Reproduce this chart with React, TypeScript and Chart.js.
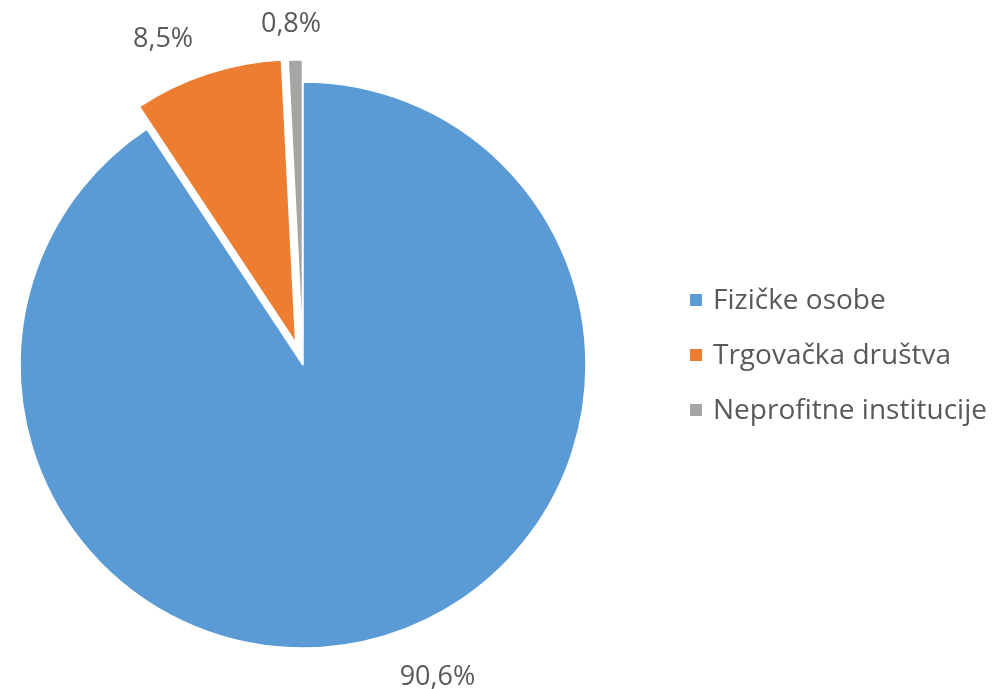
import React, { useEffect, useRef } from "react";
import { Chart, registerables } from "chart.js";

Chart.register(...registerables);

const categories = ["Fizičke osobe", "Trgovačka društva", "Neprofitne institucije"];
const values = [90.6, 8.5, 0.8];
const colors = ["#5B9BD5", "#ED7D31", "#A5A5A5"];
const explodePx = [0, 23.5, 22];

const TEXT_COLOR = "#595959";
const FONT = "'Open Sans', Lato, sans-serif";
const PIE_RADIUS = 283;

const fmt = (v: number) => v.toFixed(1).replace(".", ",") + "%";

const shiftOf = (arc: any, i: number) => {
  const mid = (arc.startAngle + arc.endAngle) / 2;
  const t = explodePx[i] || 0;
  return { dx: Math.cos(mid), dy: Math.sin(mid), tx: Math.cos(mid) * t, ty: Math.sin(mid) * t };
};

const explodePlugin = {
  id: "explode",
  beforeDatasetDraw(chart: any, args: any) {
    const ctx = chart.ctx;
    const meta = args.meta;
    meta.data.forEach((arc: any, i: number) => {
      const s = shiftOf(arc, i);
      ctx.save();
      ctx.translate(s.tx, s.ty);
      arc.draw(ctx, chart.chartArea);
      ctx.restore();
    });
    return false;
  },
};

const labelsPlugin = {
  id: "outLabels",
  afterDatasetsDraw(chart: any) {
    const ctx = chart.ctx;
    const meta = chart.getDatasetMeta(0);
    const ds = chart.data.datasets[0];
    ctx.save();
    ctx.font = `27px ${FONT}`;
    ctx.fillStyle = TEXT_COLOR;
    ctx.textAlign = "center";
    ctx.textBaseline = "middle";
    meta.data.forEach((arc: any, i: number) => {
      const s = shiftOf(arc, i);
      const r = arc.outerRadius + 26;
      const px = arc.x + s.tx + s.dx * r;
      const py = arc.y + s.ty + s.dy * r;
      const text = fmt(ds.data[i]);
      const w = ctx.measureText(text).width;
      const h = 22;
      const sx = Math.max(-1, Math.min(1, s.dx * 4));
      const fy = s.dy > 0 ? 0.77 : 0.45;
      ctx.fillText(text, px + sx * w * 0.6, py + s.dy * h * fy);
    });
    ctx.restore();
  },
  afterDraw(chart: any) {
    const ctx = chart.ctx;
    const ds = chart.data.datasets[0];
    const labels = chart.data.labels as string[];
    const x0 = 690;
    const rowH = 55;
    const centerY = 355;
    const startY = centerY - ((labels.length - 1) * rowH) / 2;
    ctx.save();
    ctx.font = `28px ${FONT}`;
    ctx.textBaseline = "middle";
    ctx.textAlign = "left";
    labels.forEach((lab, i) => {
      const y = startY + i * rowH;
      ctx.fillStyle = ds.backgroundColor[i];
      ctx.fillRect(x0, y - 6, 12, 12);
      ctx.fillStyle = TEXT_COLOR;
      ctx.fillText(lab, x0 + 23, y + 1);
    });
    ctx.restore();
  },
};

export default function App() {
  const ref = useRef<HTMLCanvasElement>(null);
  useEffect(() => {
    if (!ref.current) return;
    const chart = new Chart(ref.current, {
      type: "pie",
      data: {
        labels: categories,
        datasets: [
          {
            data: values,
            backgroundColor: colors,
            borderColor: "#ffffff",
            borderWidth: 1.5,
            radius: PIE_RADIUS,
            clip: false,
          } as any,
        ],
      },
      options: {
        responsive: false,
        animation: false,
        devicePixelRatio: 1,
        layout: { padding: { left: 0, right: 388, top: 41, bottom: 0 } },
        plugins: {
          legend: { display: false },
          tooltip: { enabled: false },
        },
      },
      plugins: [explodePlugin, labelsPlugin],
    });
    return () => chart.destroy();
  }, []);
  return (
    <div style={{ position: "fixed", left: 0, top: 0, width: 994, height: 689, background: "#fff" }}>
      <canvas ref={ref} width={994} height={689} />
    </div>
  );
}
